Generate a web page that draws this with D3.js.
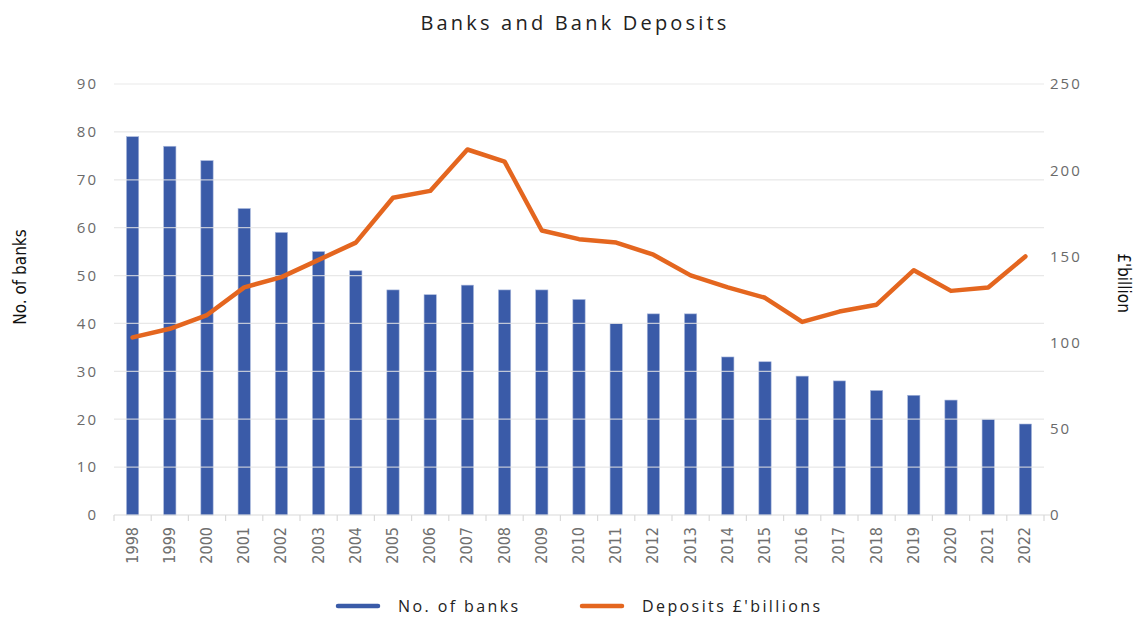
<!DOCTYPE html>
<html>
<head>
<meta charset="utf-8">
<script src="https://cdn.jsdelivr.net/npm/d3@7"></script>
<style>
  body { margin: 0; background: #fff; }
  svg { display: block; }
</style>
</head>
<body>
<svg id="chart" width="1136" height="618"></svg>
<script>
// Number of banks and total deposits per year
const years = ["1998","1999","2000","2001","2002","2003","2004","2005","2006","2007","2008","2009","2010",
               "2011","2012","2013","2014","2015","2016","2017","2018","2019","2020","2021","2022"];
const banks = [79,77,74,64,59,55,51,47,46,48,47,47,45,40,42,42,33,32,29,28,26,25,24,20,19];
const deposits = [103,108,116,132,138,148,158,184,188,212,205,165,160,158,151,139,132,126,112,118,122,142,130,132,150];
const leftTicks = [0,10,20,30,40,50,60,70,80,90];
const rightTicks = [0,50,100,150,200,250];

const svg = d3.select("#chart");
const m = { left: 114, right: 1044, top: 84, bottom: 515 };

const x = d3.scaleBand().domain(years).range([m.left, m.right]).paddingInner(0.67).paddingOuter(0.335);
const xStep = d3.scaleBand().domain(years).range([m.left, m.right]);
const yL = d3.scaleLinear().domain([0, 90]).range([m.bottom, m.top]);
const yR = d3.scaleLinear().domain([0, 250]).range([m.bottom, m.top]);

const tickFont = "'Open Sans', 'DejaVu Sans', sans-serif";
const narrowFont = "'Liberation Sans Narrow', 'DejaVu Sans Condensed', sans-serif";
const headFont = "'Open Sans', 'DejaVu Sans', sans-serif";

// title
svg.append("text").attr("x", 575).attr("y", 30).attr("text-anchor", "middle")
  .attr("font-family", headFont).attr("font-size", 20).attr("font-weight", 500)
  .attr("letter-spacing", 3.2).attr("fill", "#222").text("Banks and Bank Deposits");

// bars
svg.append("g").selectAll("rect").data(years).join("rect")
  .attr("x", d => x(d)).attr("width", x.bandwidth())
  .attr("y", (d, i) => yL(banks[i])).attr("height", (d, i) => yL(0) - yL(banks[i]))
  .attr("fill", "#3a5ba8").attr("stroke", "#a9b8dc").attr("stroke-width", 0.6);

// gridlines (drawn over the bars)
svg.append("g").selectAll("line").data(leftTicks.filter(t => t > 0)).join("line")
  .attr("x1", m.left).attr("x2", m.right).attr("y1", d => yL(d)).attr("y2", d => yL(d))
  .attr("stroke", "#e2e2e2").attr("stroke-opacity", 0.8).attr("stroke-width", 1.2);

// baseline with category separators
const base = svg.append("g").attr("stroke", "#d9d9d9").attr("stroke-width", 1.2);
base.append("line").attr("x1", m.left).attr("x2", m.right + 6).attr("y1", m.bottom).attr("y2", m.bottom);
base.selectAll("line.sep").data(years.concat(["end"])).join("line").attr("class", "sep")
  .attr("x1", (d, i) => m.left + i * xStep.step()).attr("x2", (d, i) => m.left + i * xStep.step())
  .attr("y1", m.bottom).attr("y2", m.bottom + 6);

// left axis labels
const axL = svg.append("g").attr("transform", `translate(${m.left - 16},0)`)
  .call(d3.axisLeft(yL).tickValues(leftTicks).tickSize(0).tickPadding(0));
axL.select(".domain").remove();
axL.selectAll("text").attr("font-family", tickFont).attr("font-size", 15).attr("fill", "#6a6a6a")
  .attr("letter-spacing", 2);

// right axis labels
const axR = svg.append("g").attr("transform", `translate(${m.right + 6},0)`)
  .call(d3.axisRight(yR).tickValues(rightTicks).tickSize(0).tickPadding(0));
axR.select(".domain").remove();
axR.selectAll("text").attr("font-family", tickFont).attr("font-size", 15).attr("fill", "#6a6a6a")
  .attr("letter-spacing", 2);

// year labels
svg.append("g").selectAll("text").data(years).join("text")
  .attr("transform", d => `translate(${x(d) + x.bandwidth() / 2 + 5},${m.bottom + 12}) rotate(-90)`)
  .attr("text-anchor", "end").attr("font-family", narrowFont).attr("font-size", 16)
  .attr("fill", "#707070").text(d => d);

// axis titles
svg.append("text").attr("transform", "translate(26,277) rotate(-90)").attr("text-anchor", "middle")
  .attr("font-family", narrowFont).attr("font-size", 17).attr("fill", "#111").text("No. of banks");
svg.append("text").attr("transform", "translate(1118,283) rotate(90)").attr("text-anchor", "middle")
  .attr("font-family", narrowFont).attr("font-size", 17).attr("fill", "#111").text("£'billion");

// deposits line
const line = d3.line().x((d, i) => x(years[i]) + x.bandwidth() / 2).y(d => yR(d));
svg.append("path").datum(deposits).attr("d", line).attr("fill", "none")
  .attr("stroke", "#e4661f").attr("stroke-width", 4.5).attr("stroke-linejoin", "round").attr("stroke-linecap", "round");

// legend
const legend = [
  { label: "No. of banks", color: "#3a5ba8", x: 336 },
  { label: "Deposits £'billions", color: "#e4661f", x: 580 }
];
const lg = svg.append("g").selectAll("g").data(legend).join("g").attr("transform", d => `translate(${d.x},606)`);
lg.append("line").attr("x1", 2).attr("x2", 42).attr("y1", 0).attr("y2", 0)
  .attr("stroke", d => d.color).attr("stroke-width", 4.5).attr("stroke-linecap", "round");
lg.append("text").attr("x", 62).attr("y", 6).attr("font-family", headFont)
  .attr("font-size", 16).attr("letter-spacing", 2.4).attr("fill", "#222").text(d => d.label);
</script>
</body>
</html>
